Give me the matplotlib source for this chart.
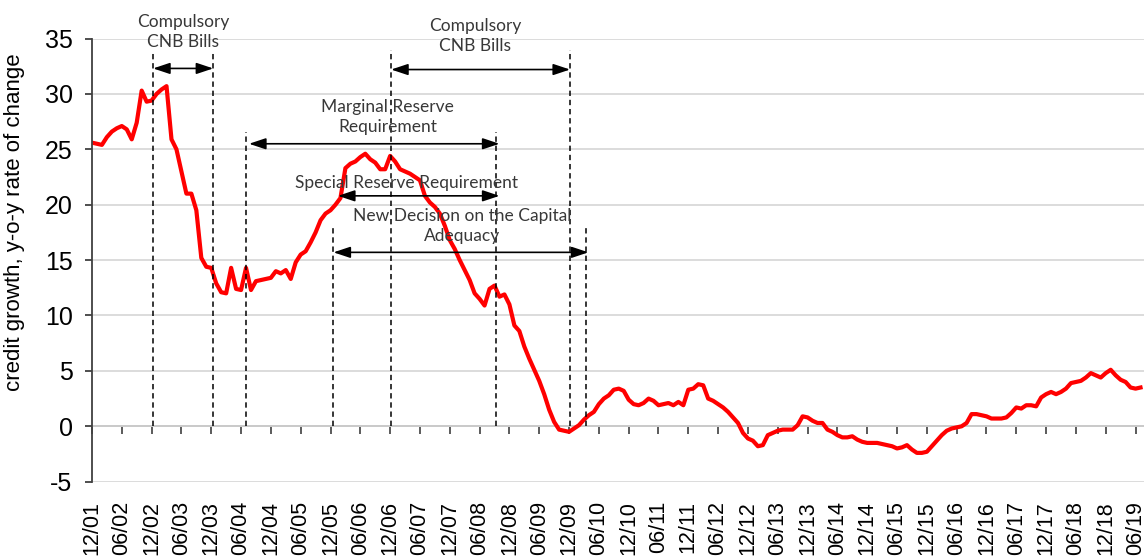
"""Credit growth (y-o-y) with the CNB policy measures marked on top."""

import numpy as np
import matplotlib
matplotlib.use('Agg')
import matplotlib.pyplot as plt

plt.rcParams['axes.unicode_minus'] = False

# --- data -----------------------------------------------------------------
# monthly y-o-y credit growth, first value = 12/2001
CREDIT = [
    25.6, 25.5, 25.4, 26.1, 26.6, 26.9, 27.1, 26.8, 25.9, 27.4,   # 12/01
    30.3, 29.3, 29.4, 30.0, 30.4, 30.7, 25.9, 25.0, 23.0, 21.0,   # 10/02
    21.0, 19.5, 15.2, 14.4, 14.3, 12.9, 12.1, 12.0, 14.3, 12.4,   # 08/03
    12.3, 14.3, 12.3, 13.1, 13.2, 13.3, 13.4, 14.0, 13.8, 14.1,   # 06/04
    13.3, 14.8, 15.5, 15.8, 16.6, 17.5, 18.6, 19.2, 19.5, 20.0,   # 04/05
    20.6, 23.3, 23.7, 23.9, 24.3, 24.6, 24.1, 23.8, 23.2, 23.2,   # 02/06
    24.4, 23.9, 23.2, 23.0, 22.8, 22.5, 22.2, 20.8, 20.2, 19.8,   # 12/06
    19.2, 18.1, 16.8, 16.0, 15.0, 14.1, 13.2, 12.0, 11.5, 10.9,   # 10/07
    12.4, 12.7, 11.7, 11.9, 11.0, 9.1, 8.6, 7.2, 6.1, 5.1,        # 08/08
    4.1, 2.9, 1.5, 0.4, -0.3, -0.4, -0.5, -0.2, 0.1, 0.6,         # 06/09
    1.0, 1.3, 2.0, 2.5, 2.8, 3.3, 3.4, 3.2, 2.4, 2.0,             # 04/10
    1.9, 2.1, 2.5, 2.3, 1.9, 2.0, 2.1, 1.9, 2.2, 1.9,             # 02/11
    3.3, 3.4, 3.8, 3.7, 2.5, 2.3, 2.0, 1.7, 1.3, 0.8,             # 12/11
    0.3, -0.6, -1.1, -1.3, -1.8, -1.7, -0.8, -0.6, -0.4, -0.3,    # 10/12
    -0.3, -0.3, 0.1, 0.9, 0.8, 0.5, 0.3, 0.3, -0.3, -0.5,         # 08/13
    -0.8, -1.0, -1.0, -0.9, -1.2, -1.4, -1.5, -1.5, -1.5, -1.6,   # 06/14
    -1.7, -1.8, -2.0, -1.9, -1.7, -2.1, -2.4, -2.4, -2.3, -1.8,   # 04/15
    -1.3, -0.8, -0.4, -0.2, -0.1, 0.0, 0.3, 1.1, 1.1, 1.0,        # 02/16
    0.9, 0.7, 0.7, 0.7, 0.8, 1.2, 1.7, 1.6, 1.9, 1.9,             # 12/16
    1.8, 2.6, 2.9, 3.1, 2.9, 3.1, 3.4, 3.9, 4.0, 4.1,             # 10/17
    4.4, 4.8, 4.6, 4.4, 4.8, 5.1, 4.6, 4.2, 4.0, 3.5,             # 08/18
    3.4, 3.5,                                                     # 06/19
]
MONTHS = np.arange(len(CREDIT))

TICK_POS = np.arange(0, 211, 6)
TICK_LABELS = ['12/01'] + [f'{m}/{y:02d}' for y in range(2, 20)
                           for m in ('06', '12')][:-1]

# policy measures, in months after 12/01
CNB1 = (12.3, 24.4)          # compulsory CNB bills, first round
CNB2 = (60.2, 96.2)          # compulsory CNB bills, second round
MRR = (31.0, 81.4)           # marginal reserve requirement
SRR = (48.6, 81.4)           # special reserve requirement
NDCA = (48.6, 99.5)          # new decision on the capital adequacy

TXT = '#383838'
ANN_FONT = 'Lato'
ANN_SIZE = 12.5
TICK_FONT = 'Liberation Sans'


def arrow(ax, x0, x1, y):
    ax.annotate('', xy=(x1, y), xytext=(x0, y), annotation_clip=False,
                arrowprops=dict(arrowstyle='<|-|>,head_length=0.6,head_width=0.2',
                                color='black', lw=1.2, mutation_scale=17,
                                shrinkA=0, shrinkB=0), zorder=4)


def dashed(ax, x, top):
    ax.vlines(x, 0, top, colors='black', lw=1.1,
              linestyles=(0, (3.5, 2.5)), zorder=3, clip_on=False)


def main():
    fig = plt.figure(figsize=(11.44, 5.59), dpi=100)
    ax = fig.add_axes([0.0804, 0.1383, 0.9196, 0.7928])

    ax.plot(MONTHS, CREDIT, color='#ff0000', lw=3, zorder=2,
            solid_joinstyle='round')

    ax.set_xlim(0, 211.7)
    ax.set_ylim(-5, 35)
    ax.set_yticks(np.arange(-5, 36, 5))
    ax.grid(axis='y', color='#d9d9d9', lw=1.3, zorder=0)
    ax.set_axisbelow(True)
    for s in ('top', 'right', 'bottom'):
        ax.spines[s].set_visible(False)
    ax.spines['left'].set_color('#404040')
    ax.spines['left'].set_linewidth(1.3)

    # bottom labels only, the ticks sit on the zero line
    ax.set_xticks(TICK_POS)
    ax.set_xticklabels(TICK_LABELS, rotation=90, fontsize=15.5,
                       family=TICK_FONT, color='black')
    ax.tick_params(axis='x', length=0, pad=14)
    ax.tick_params(axis='y', length=5, width=1.3, color='#404040',
                   labelsize=18, pad=9)
    for lab in ax.get_yticklabels():
        lab.set_family(TICK_FONT)

    zero = ax.secondary_xaxis(0.125)
    zero.set_xticks(TICK_POS)
    zero.set_xticklabels([])
    zero.tick_params(axis='x', direction='out', length=6, width=1.2,
                     color='#404040')
    zero.spines['bottom'].set_color('#404040')
    zero.spines['bottom'].set_linewidth(1.4)

    ax.set_ylabel('credit growth, y-o-y rate of change', fontsize=16,
                  family=TICK_FONT)
    ax.yaxis.set_label_coords(-0.064, 0.585)

    # --- policy measures ---------------------------------------------------
    for x in CNB1:
        dashed(ax, x, 33.8)
    arrow(ax, CNB1[0], CNB1[1], 32.3)
    ax.text(18.4, 35.6, 'Compulsory\nCNB Bills', ha='center', va='center',
            fontsize=ANN_SIZE, family=ANN_FONT, color=TXT, linespacing=1.3)

    for x in CNB2:
        dashed(ax, x, 34.0)
    arrow(ax, CNB2[0], CNB2[1], 32.2)
    ax.text(77.1, 35.2, 'Compulsory\nCNB Bills', ha='center', va='center',
            fontsize=ANN_SIZE, family=ANN_FONT, color=TXT, linespacing=1.3)

    dashed(ax, MRR[0], 26.6)
    dashed(ax, MRR[1], 26.6)
    arrow(ax, MRR[0] + 0.6, MRR[1] + 0.6, 25.5)
    ax.text(59.5, 27.9, 'Marginal Reserve\nRequirement', ha='center',
            va='center', fontsize=ANN_SIZE, family=ANN_FONT, color=TXT,
            linespacing=1.3, zorder=5)

    dashed(ax, SRR[0], 18.0)
    arrow(ax, SRR[0] + 0.9, SRR[1] + 0.6, 20.8)
    ax.text(63.2, 21.95, 'Special Reserve Requirement', ha='center',
            va='center', fontsize=ANN_SIZE, family=ANN_FONT, color=TXT,
            zorder=5)

    dashed(ax, NDCA[1], 17.9)
    arrow(ax, NDCA[0], NDCA[1] + 0.4, 15.7)
    ax.text(74.5, 18.1, 'New Decision on the Capital\nAdequacy', ha='center',
            va='center', fontsize=ANN_SIZE, family=ANN_FONT, color=TXT,
            linespacing=1.3, zorder=5)

    fig.savefig('out.png', dpi=100)


if __name__ == '__main__':
    main()
